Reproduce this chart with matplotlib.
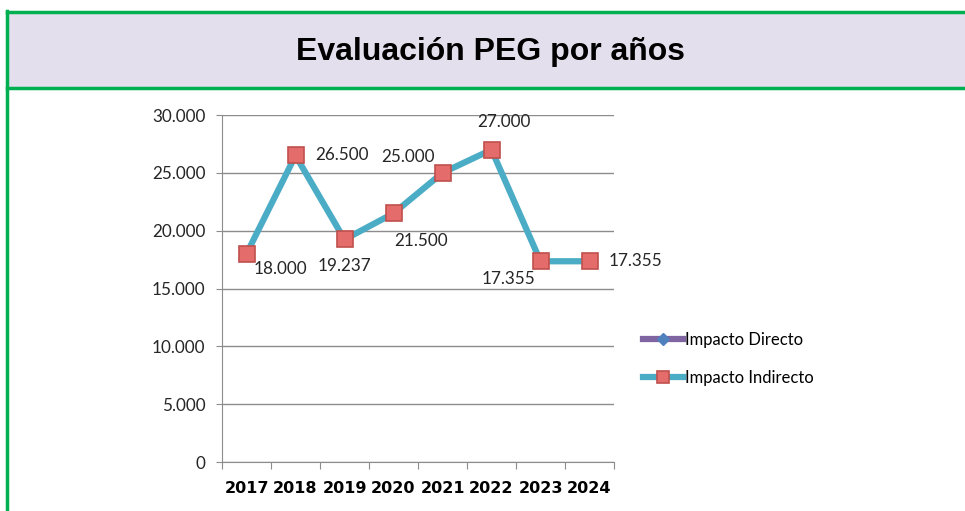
import numpy as np
import matplotlib.pyplot as plt
from matplotlib.patches import Rectangle
from matplotlib.lines import Line2D
from matplotlib.ticker import FuncFormatter

#__ Data ______________________________
years = ['2017', '2018', '2019', '2020', '2021', '2022', '2023', '2024']
indirecto = [18000, 26500, 19237, 21500, 25000, 27000, 17355, 17355]
directo = [None] * len(years)   # no values shown for this series
series_names = ['Impacto Directo', 'Impacto Indirecto']
title = 'Evaluación PEG por años'

# label offsets (pixels) for each point: dx, dy, ha
lab_pos = [(34, -15, 'center'), (20, 0, 'left'), (0, -27, 'center'), (28, -28, 'center'),
           (-8, 16, 'right'), (12, 28, 'center'), (-32, -18, 'center'), (19, 0, 'left')]

def thousands(v, pos=None):
    return f"{int(v):,}".replace(',', '.')

W, H = 965, 511
fig = plt.figure(figsize=(W/100, H/100), dpi=100)
plt.rcParams['font.family'] = ['Lato', 'DejaVu Sans']

# header band
green = '#00B050'
fig.patches.append(Rectangle((7/W, 1-88/H), 1-7/W, 76/H, transform=fig.transFigure,
                             facecolor='#E4DFEC', edgecolor='none', zorder=0))
fig.add_artist(Line2D([7/W, 1], [1-12/H, 1-12/H], color=green, lw=2.5))
fig.add_artist(Line2D([7/W, 1], [1-88/H, 1-88/H], color=green, lw=2.5))
fig.add_artist(Line2D([7/W, 7/W], [0, 1-11/H], color=green, lw=2.5))
fig.text(490/W, 1-52/H, title, ha='center', va='center', fontsize=23,
         fontweight='bold', family='Liberation Sans')

ax = fig.add_axes([222/W, 49/H, 392/W, 347/H])
x = np.arange(len(years))
d = np.array([np.nan if v is None else v for v in directo], dtype=float)
ax.plot(x, d, color='#8064A2', lw=4.5, marker='D', ms=8, mfc='#4F81BD', mec='#4F81BD',
        label=series_names[0])
ax.plot(x, indirecto, color='#4BACC6', lw=4.5, marker='s', ms=12, mfc='#E46C6A',
        mec='#C0504D', mew=1.2, label=series_names[1], zorder=3)

for i, v in enumerate(indirecto):
    dx, dy, ha = lab_pos[i]
    ax.annotate(thousands(v), (x[i], v), xytext=(dx*0.72, dy*0.72), textcoords='offset points',
                ha=ha, va='center', fontsize=12.3, color='#262626')

ax.set_xlim(-0.5, len(years)-0.5)
ax.set_ylim(0, 30000)
ax.set_yticks(np.arange(0, 30001, 5000))
ax.yaxis.set_major_formatter(FuncFormatter(thousands))
ax.grid(axis='y', color='#8C8C8C', lw=1)
ax.set_axisbelow(True)
ax.set_xticks(np.arange(-0.5, len(years), 1))
ax.set_xticklabels([])
ax.set_xticks(x, minor=True)
ax.set_xticklabels(years, minor=True, fontweight='bold', fontsize=11.5,
                   family='DejaVu Sans')
ax.tick_params(axis='x', which='minor', length=0, pad=14)
ax.tick_params(axis='x', which='major', length=5, color='#8C8C8C')
ax.tick_params(axis='y', length=4, color='#8C8C8C', labelsize=12.3, labelcolor='#262626', pad=8)
for s in ['top', 'right']:
    ax.spines[s].set_visible(False)
ax.spines['left'].set_color('#8C8C8C')
ax.spines['bottom'].set_color('#8C8C8C')

fig.legend(loc='center left', bbox_to_anchor=(628/W, 1-359/H), frameon=False,
           fontsize=12, handlelength=2.4, handletextpad=0.1, labelspacing=1.3,
           markerscale=0.75)

fig.savefig('out.png', dpi=100)
